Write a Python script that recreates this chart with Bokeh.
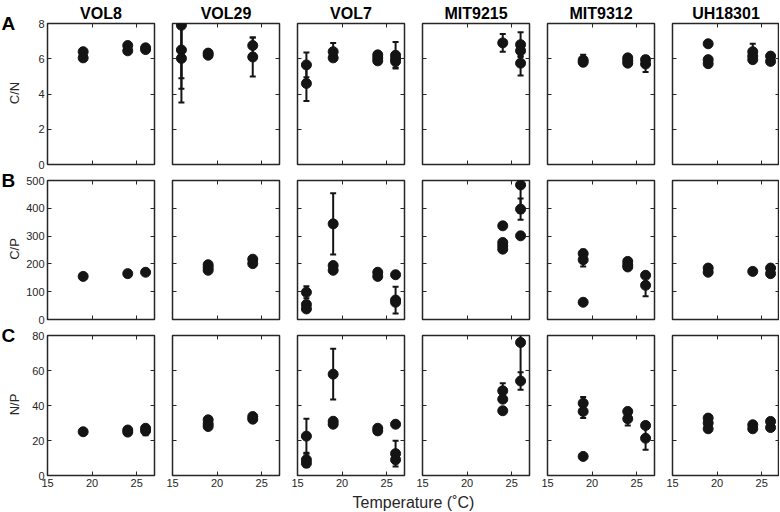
import math
from bokeh.plotting import figure
from bokeh.models import ColumnDataSource, LinearAxis, Label, FixedTicker, Range1d
from bokeh.layouts import column, row
from bokeh.embed import file_html
from bokeh.resources import INLINE

# ---------------- data ----------------
strains = ["VOL8", "VOL29", "VOL7", "MIT9215", "MIT9312", "UH18301"]
row_letters = ["A", "B", "C"]
y_labels = ["C/N", "C/P", "N/P"]
y_limits = [8, 500, 80]
y_ticks_cn = [0, 2, 4, 6, 8]
y_ticks_cp = [0, 100, 200, 300, 400, 500]
y_ticks_np = [0, 20, 40, 60, 80]
x_ticks = [15, 20, 25]
x_limits = [15, 27]
x_label = "Temperature (˚C)"

# C/N
cn_strain = ["VOL8"] * 6 + ["VOL29"] * 7 + ["VOL7"] * 10 + ["MIT9215"] * 4 + ["MIT9312"] * 7 + ["UH18301"] * 8
cn_temp = [19, 19, 24, 24, 26, 26,
           16, 16, 16, 19, 19, 24, 24,
           16, 16, 19, 19, 24, 24, 24, 26, 26, 26,
           24, 26, 26, 26,
           19, 19, 24, 24, 24, 26, 26,
           19, 19, 19, 24, 24, 24, 26, 26]
cn_value = [6.05, 6.40, 6.45, 6.75, 6.52, 6.62,
            7.90, 6.50, 6.02, 6.20, 6.32, 6.75, 6.10,
            5.65, 4.60, 6.05, 6.40, 6.22, 6.05, 5.88, 6.20, 6.00, 5.85,
            6.90, 6.80, 6.45, 5.75,
            5.80, 5.92, 6.05, 5.90, 5.75, 5.95, 5.70,
            6.85, 5.95, 5.72, 6.40, 6.15, 5.95, 6.15, 5.85]
cn_error = [0.10, 0.10, 0.10, 0.10, 0.10, 0.08,
            3.00, 2.20, 2.50, 0.10, 0.10, 0.45, 1.10,
            0.70, 1.00, 0.15, 0.50, 0.10, 0.10, 0.10, 0.75, 0.20, 0.35,
            0.50, 0.70, 0.30, 0.70,
            0.20, 0.30, 0.10, 0.10, 0.10, 0.10, 0.45,
            0.10, 0.10, 0.10, 0.45, 0.10, 0.10, 0.10, 0.10]

# C/P
cp_strain = ["VOL8"] * 3 + ["VOL29"] * 5 + ["VOL7"] * 11 + ["MIT9215"] * 7 + ["MIT9312"] * 8 + ["UH18301"] * 5
cp_temp = [19, 24, 26,
           19, 19, 19, 24, 24,
           16, 16, 16, 19, 19, 19, 24, 24, 26, 26, 26,
           24, 24, 24, 24, 26, 26, 26,
           19, 19, 19, 24, 24, 24, 26, 26,
           19, 19, 24, 26, 26]
cp_value = [155, 165, 170,
            197, 187, 177, 217, 201,
            98, 54, 38, 344, 194, 177, 170, 155, 161, 70, 62,
            337, 277, 265, 253, 484, 397, 301,
            237, 215, 62, 209, 197, 189, 159, 123,
            185, 170, 173, 185, 165]
cp_error = [8, 8, 8,
            8, 8, 8, 8, 8,
            22, 8, 8, 110, 8, 8, 8, 8, 8, 48, 8,
            5, 8, 8, 8, 100, 38, 5,
            14, 24, 5, 8, 8, 10, 8, 39,
            8, 8, 8, 8, 8]

# N/P
np_strain = ["VOL8"] * 5 + ["VOL29"] * 5 + ["VOL7"] * 11 + ["MIT9215"] * 5 + ["MIT9312"] * 7 + ["UH18301"] * 7
np_temp = [19, 24, 24, 26, 26,
           19, 19, 19, 24, 24,
           16, 16, 16, 19, 19, 19, 24, 24, 26, 26, 26,
           24, 24, 24, 26, 26,
           19, 19, 19, 24, 24, 26, 26,
           19, 19, 19, 24, 24, 26, 26]
np_value = [25.0, 26.0, 24.8, 27.0, 25.5,
            31.8, 29.5, 28.0, 33.7, 32.2,
            22.5, 9.0, 7.0, 57.9, 31.0, 29.3, 27.0, 25.5, 29.3, 12.5, 9.0,
            48.4, 43.6, 37.0, 76.0, 54.0,
            41.3, 36.6, 10.9, 36.6, 32.4, 28.6, 21.3,
            32.8, 30.0, 26.7, 29.0, 26.7, 30.9, 27.4]
np_error = [1.0, 1.5, 1.0, 1.5, 2.5,
            1.5, 1.0, 1.5, 1.5, 1.5,
            10.0, 4.0, 2.0, 14.5, 1.0, 1.0, 1.0, 1.0, 1.0, 7.4, 2.0,
            4.3, 1.0, 1.0, 22.0, 5.0,
            3.5, 3.8, 1.0, 1.5, 3.8, 1.0, 6.6,
            1.0, 1.0, 1.0, 1.0, 1.0, 1.0, 1.0]

rows_data = [
    (cn_strain, cn_temp, cn_value, cn_error, y_ticks_cn),
    (cp_strain, cp_temp, cp_value, cp_error, y_ticks_cp),
    (np_strain, np_temp, np_value, np_error, y_ticks_np),
]

# ---------------- layout / styling ----------------
FONT = "Liberation Sans"
INK = "#262626"
DOT = "#141414"
FW = 107                      # frame width
FHS = [141, 139, 140]         # frame heights per row
STRIP_W = 21                  # left strip for panel letters + y labels
TOP_B = [22, 8, 8]            # top borders per row
BOT_B = [8, 8, 14]            # bottom borders per row
ROW_H = [TOP_B[i] + FHS[i] + BOT_B[i] for i in range(3)]
GRID_H = sum(ROW_H)
XL_H = 512 - GRID_H


def style_axis(ax, ticks, labelled):
    ax.axis_line_color = None
    ax.major_tick_in = 4
    ax.major_tick_out = 0
    ax.minor_tick_in = 4
    ax.minor_tick_out = 0
    ax.major_tick_line_color = INK
    ax.minor_tick_line_color = INK
    ax.major_tick_line_width = 1
    ax.minor_tick_line_width = 1
    ax.major_label_text_font = FONT
    ax.major_label_text_color = INK
    ax.major_label_text_font_size = "11px"
    if labelled:
        ax.ticker = FixedTicker(ticks=ticks, minor_ticks=[])
        ax.major_label_standoff = 3
    else:
        # tick marks only (drawn as minor ticks, which carry no labels)
        ax.ticker = FixedTicker(ticks=[], minor_ticks=ticks)
        ax.major_label_standoff = 0


def make_panel(r, c):
    strain_arr, temp_arr, val_arr, err_arr, yticks = rows_data[r]
    FH = FHS[r]
    sel = [i for i, s in enumerate(strain_arr) if s == strains[c]]
    t = [temp_arr[i] for i in sel]
    v = [val_arr[i] for i in sel]
    e = [err_arr[i] for i in sel]
    src = ColumnDataSource(dict(t=t, v=v, lo=[a - b for a, b in zip(v, e)],
                                hi=[a + b for a, b in zip(v, e)]))

    p = figure(frame_width=FW, frame_height=FH,
               x_range=Range1d(x_limits[0], x_limits[1]), y_range=Range1d(0, y_limits[r]),
               output_backend="svg", toolbar_location=None,
               x_axis_location=None, y_axis_location=None,
               min_border_left=26 if c == 0 else 9,
               min_border_right=0 if c == 5 else 9,
               min_border_top=TOP_B[r],
               min_border_bottom=BOT_B[r])
    p.grid.visible = False
    p.outline_line_color = INK
    p.outline_line_width = 1.5
    p.background_fill_color = "white"
    p.border_fill_color = "white"

    if r == 0:
        p.title.text = strains[c]
        p.title.align = "center"
        p.title.text_font = FONT
        p.title.text_font_size = "16px"
        p.title.text_font_style = "bold"
        p.title.text_color = "black"
        p.title.standoff = 4
        p.title.offset = 0

    for loc in ["left", "right"]:
        ax = LinearAxis()
        style_axis(ax, yticks, loc == "left" and c == 0)
        p.add_layout(ax, loc)
    for loc in ["below", "above"]:
        ax = LinearAxis()
        style_axis(ax, x_ticks, loc == "below" and r == 2)
        p.add_layout(ax, loc)

    # error bars with caps
    p.segment(x0="t", y0="lo", x1="t", y1="hi", source=src, line_color=DOT, line_width=2)
    p.scatter(x="t", y="lo", source=src, marker="dash", size=6, line_color=DOT, line_width=2)
    p.scatter(x="t", y="hi", source=src, marker="dash", size=6, line_color=DOT, line_width=2)
    # points
    p.scatter(x="t", y="v", source=src, marker="circle", size=10, fill_color=DOT, line_color=DOT)
    return p


# left strip with the panel letters and y-axis labels
strip = figure(frame_width=STRIP_W, frame_height=GRID_H, x_range=Range1d(0, 1), y_range=Range1d(0, 1),
               output_backend="svg", toolbar_location=None,
               x_axis_location=None, y_axis_location=None,
               min_border_left=0, min_border_right=0, min_border_top=0, min_border_bottom=0)
strip.grid.visible = False
strip.outline_line_color = None
frame_top = 0
for r in range(3):
    ft = frame_top + TOP_B[r]
    strip.add_layout(Label(x=1, y=GRID_H - (ft + 1), x_units="screen", y_units="screen",
                           text=row_letters[r], text_align="left", text_baseline="middle",
                           text_font=FONT, text_font_size="19px", text_font_style="bold",
                           text_color="black"))
    strip.add_layout(Label(x=14, y=GRID_H - (ft + FHS[r] / 2), x_units="screen", y_units="screen",
                           angle=math.pi / 2, text=y_labels[r], text_align="center",
                           text_baseline="middle", text_font=FONT, text_font_size="13px",
                           text_color=INK))
    frame_top += ROW_H[r]

grid_rows = [row([make_panel(r, c) for c in range(6)], spacing=0) for r in range(3)]
top = row([strip, column(grid_rows, spacing=0)], spacing=0)

xl = figure(frame_width=779, frame_height=XL_H, x_range=Range1d(0, 1), y_range=Range1d(0, 1),
            output_backend="svg", toolbar_location=None,
            x_axis_location=None, y_axis_location=None,
            min_border_left=0, min_border_right=0, min_border_top=0, min_border_bottom=0)
xl.grid.visible = False
xl.outline_line_color = None
xl.add_layout(Label(x=STRIP_W + 26 + (6 * 125 - 18) / 2, y=XL_H / 2 - 1, x_units="screen", y_units="screen",
                    text=x_label, text_align="center", text_baseline="middle", text_font=FONT,
                    text_font_size="16px", text_color=INK))

layout = column([top, xl], spacing=0)

open("out.html", "w").write(file_html(layout, INLINE))
